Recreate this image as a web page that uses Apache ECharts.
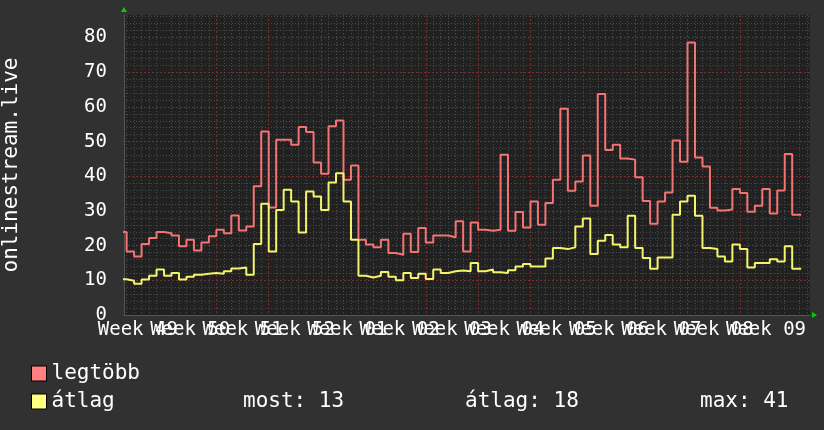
<!DOCTYPE html>
<html><head><meta charset="utf-8">
<script src="https://cdn.jsdelivr.net/npm/echarts@6/dist/echarts.min.js"></script>
<style>html,body{margin:0;padding:0;background:#313131}#c{width:824px;height:430px}</style>
</head><body><div id="c"></div>
<script>
// ---- data ----
const firstDay = -6;          // day index of first value (day 0 = start of Week 50)
const lastDayEnd = 85.2;      // end of last (partial) sample
const viewStart = -5.35, viewEnd = 86.38;
const yMax = 86.5;
const weekLabels = ['Week 49','Week 50','Week 51','Week 52','Week 01','Week 02','Week 03','Week 04','Week 05','Week 06','Week 07','Week 08','Week 09'];
const firstWeekStart = -7;
const yTickLabels = [0,10,20,30,40,50,60,70,80];
const seriesNames = ['legtöbb','átlag'];
const statNames = ['most','átlag','max'];
const statValues = [13,18,41];
const maxValues = [23.9,18.3,16.9,20.5,22.2,23.9,23.6,22.9,19.8,21.7,18.6,20.9,22.7,24.6,23.6,28.7,24.4,25.5,37.1,52.9,31.0,50.5,50.5,49.1,54.2,52.8,44.0,40.7,54.4,56.1,39.0,43.1,21.7,20.3,19.5,21.7,17.9,17.4,23.4,18.2,25.1,20.9,22.9,22.9,22.4,27.0,18.3,26.7,24.6,24.3,24.6,46.2,24.3,29.7,25.2,32.7,26.0,32.3,39.0,59.5,35.8,38.5,46.0,31.5,63.7,47.6,49.1,45.1,44.8,39.7,32.9,26.3,32.7,35.3,50.3,44.2,78.6,45.4,42.8,30.9,30.1,30.4,36.3,35.2,29.8,31.5,36.3,29.3,35.9,46.4,28.9];
const avgValues = [10.3,9.9,9.0,10.2,11.3,13.1,11.3,12.1,10.2,11.0,11.6,11.9,12.1,11.9,12.6,13.4,13.7,11.6,20.5,32.1,18.3,30.3,36.1,32.7,23.8,35.6,34.2,30.3,38.2,40.9,32.7,21.7,11.3,10.8,11.3,12.4,11.0,10.0,12.1,10.7,11.9,10.4,13.1,12.1,12.6,12.8,12.6,15.0,12.6,13.1,12.3,12.1,12.9,14.0,14.7,14.0,14.0,16.3,19.3,19.0,19.5,25.5,27.8,17.6,21.4,23.1,20.3,19.5,28.6,19.3,16.4,13.3,16.6,16.6,28.9,32.7,34.4,28.6,19.3,19.0,16.9,15.4,20.3,19.0,13.7,15.0,15.0,16.1,15.4,19.8,13.3];

// ---- build ----
const FONT = 'DejaVu Sans Mono';
const toSeries = vals => vals.map((v,i)=>[firstDay+i, v]).concat([[lastDayEnd, vals[vals.length-1]]]);
const weekStarts = [], weekMids = [], days = [];
for (let k=0;k<weekLabels.length;k++){ weekStarts.push(firstWeekStart+7*k); weekMids.push(firstWeekStart+3.5+7*k); }
for (let d=Math.ceil(viewStart); d<=viewEnd; d++) if (((d%7)+7)%7!==0) days.push(d);
const minorY = [];
for (let v=2; v<yMax; v+=2) if (v%10!==0) minorY.push(v);
const labelFmt = v => weekLabels[Math.round((v-firstWeekStart-3.5)/7)];

// even / odd week labels on separate axes so none is dropped for overlapping
function labelAxis(parity){
  return { type:'value', position:'bottom', min:viewStart, max:viewEnd,
    axisLine:{show:false, onZero:false}, axisTick:{show:false}, splitLine:{show:false},
    axisLabel:{show:true, customValues:weekMids.filter((v,i)=>i%2===parity), showMinLabel:true, showMaxLabel:true, hideOverlap:false,
      alignMinLabel:'center', alignMaxLabel:'center', lineHeight:12,
      color:'#ffffff', fontFamily:FONT, fontSize:19, margin:9, formatter:labelFmt } };
}

const chart = echarts.init(document.getElementById('c'), null, {renderer:'canvas'});
const gridCfg = {left:124, right:14, top:15, bottom:115, outerBoundsMode:'none', containLabel:false, show:true, backgroundColor:'#212121', borderWidth:0};
const option = {
  backgroundColor:'#313131',
  animation:false,
  grid: gridCfg,
  xAxis: [
    { type:'value', position:'bottom', min:viewStart, max:viewEnd, axisLine:{show:false, onZero:false}, axisTick:{show:false, customValues:days},
      axisLabel:{show:false}, splitLine:{show:true, lineStyle:{color:'#4a4a4a', type:[1,2], width:1}} },
    { type:'value', position:'bottom', min:viewStart, max:viewEnd,
      axisLine:{show:true, onZero:false, lineStyle:{color:'#555'}},
      axisTick:{show:false, customValues:weekStarts.filter(v=>v>0)},
      splitLine:{show:true, lineStyle:{color:'#7a2f2f', type:[2,2], width:1}},
      axisLabel:{show:false} },
    labelAxis(0),
    labelAxis(1)
  ],
  yAxis: [
    { type:'value', position:'left', min:0, max:yMax, interval:10,
      name:'onlinestream.live', nameLocation:'middle', nameRotate:90, nameGap:102,
      nameTextStyle:{color:'#ffffff', fontFamily:FONT, fontSize:21},
      axisLine:{show:true, onZero:false, lineStyle:{color:'#555'}}, axisTick:{show:false, customValues:yTickLabels},
      splitLine:{show:true, lineStyle:{color:'#7a2f2f', type:[2,2], width:1}},
      axisLabel:{customValues:yTickLabels, hideOverlap:false, lineHeight:12, color:'#ffffff', fontFamily:FONT, fontSize:19, margin:17} },
    { type:'value', position:'left', min:0, max:yMax, axisLine:{show:false, onZero:false}, axisTick:{show:false, customValues:minorY},
      axisLabel:{show:false}, splitLine:{show:true, lineStyle:{color:'#4a4a4a', type:[1,2], width:1}} }
  ],
  legend: { orient:'vertical', left:31, top:363, padding:0, itemWidth:15, itemHeight:15, itemGap:7, icon:'rect',
    itemStyle:{borderColor:'#000', borderWidth:1},
    textStyle:{color:'#ffffff', fontFamily:FONT, fontSize:21}, data:seriesNames },
  series: [
    { name:seriesNames[0], type:'line', step:'end', xAxisIndex:0, yAxisIndex:0, showSymbol:false,
      data:toSeries(maxValues), itemStyle:{color:'#ff8080'}, lineStyle:{color:'#f47474', width:2} },
    { name:seriesNames[1], type:'line', step:'end', xAxisIndex:0, yAxisIndex:0, showSymbol:false,
      data:toSeries(avgValues), itemStyle:{color:'#ffff80'}, lineStyle:{color:'#f4f46c', width:2} }
  ]
};
chart.setOption(option);

// decorations: stats text + green arrows at the plot corners
const statX = [243, 465, 700];
const L = gridCfg.left, T = gridCfg.top, R = 824 - gridCfg.right, B = 430 - gridCfg.bottom;
const g = statNames.map((n,i)=>({type:'text', x:statX[i], y:402, style:{text:n+': '+statValues[i], fill:'#fff', font:'21px "'+FONT+'"', textVerticalAlign:'middle'}}));
g.push({type:'polygon', shape:{points:[[L-3, T-3],[L+3, T-3],[L, T-8]]}, style:{fill:'#00d000'}});
g.push({type:'polygon', shape:{points:[[R+2, B-3],[R+2, B+3],[R+7, B]]}, style:{fill:'#00d000'}});
chart.setOption({graphic:g});
</script></body></html>
